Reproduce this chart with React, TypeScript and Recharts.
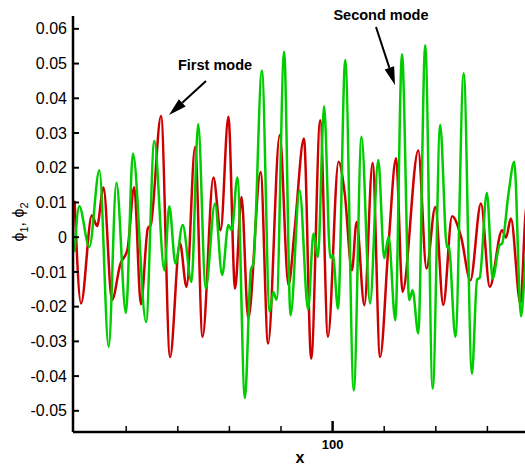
import { LineChart, Line, XAxis, YAxis } from 'recharts';

// first mode (red), extrema
const mode1X = [
  0, 2.5, 6.7, 8.7, 11.2, 14.5, 17.7, 20.5, 23.1, 25.7, 28.4, 29.5, 33.5, 37.0, 40.8, 43.4,
  46.7, 49.6, 53.8, 56.6, 59.6, 62.2, 64.7, 67.3, 72.1, 75.0, 79.5, 82.9, 85.3, 88.9, 91.7,
  95.2, 98.2, 102.3, 104.7, 107.5, 109.3, 112.3, 115.5, 118.4, 121.7, 124.6, 127.1, 133.2,
  136.4, 139.8, 142.9, 146.3, 149.8, 153.4, 157.5, 160.9, 165.7, 167.2, 169.1, 172.8, 174.7, 176,
];
const mode1Y = [
  0.0105, -0.0191, 0.0063, 0.0032, 0.0143, -0.0181, -0.0078, -0.0035, 0.0144, -0.0193, 0.0026,
  0.0035, 0.0349, -0.0345, -0.0016, -0.0143, 0.026, -0.0287, 0.0172, 0.002, 0.0347, -0.0148,
  0.0116, -0.0234, 0.0188, -0.0306, 0.0294, -0.0138, 0.0023, 0.0284, -0.035, 0.0337, -0.0287,
  0.0217, 0.0126, -0.0095, 0.0044, -0.0196, 0.0214, -0.0345, -0.0018, 0.0227, -0.0157, 0.025,
  -0.009, 0.0087, -0.0195, 0.006, 0.0001, -0.0124, 0.0097, -0.0143, 0.002, -0.0001, 0.0054,
  -0.0191, 0.0058, 0.014,
];

// second mode (green)
const mode2X = [
  0, 1.8, 5.7, 9.6, 13.2, 16.2, 19.9, 22.6, 27.7, 30.9, 34.8, 36.7, 39.1, 41.9, 45.3, 47.9,
  50.8, 54.4, 57.2, 59.6, 60.9, 63.1, 66.0, 68.3, 69.3, 72.6, 75.6, 77.0, 78.3, 81.2, 83.7,
  87.2, 90.5, 92.6, 94.3, 96.7, 99.1, 100.1, 102.1, 104.9, 108.2, 111.2, 114.5, 117.7, 120,
  121.7, 124.3, 126.9, 129.7, 131.0, 133.2, 135.9, 138.8, 141.7, 144.3, 145.0, 147.6, 150.8,
  154.0, 156.0, 157.0, 159.8, 162.0, 164.7, 165.7, 168.2, 170.4, 173.0, 174.7, 176,
];
const mode2Y = [
  -0.0042, 0.0089, -0.0028, 0.0193, -0.0316, 0.0157, -0.0218, 0.0241, -0.0244, 0.0277, -0.0095,
  0.0089, -0.0076, 0.0035, -0.0129, 0.0326, -0.0148, 0.0097, -0.0109, 0.0035, 0.002, 0.0172,
  -0.0463, -0.0095, -0.0075, 0.0479, -0.0215, -0.0158, -0.018, 0.0534, -0.0225, 0.0135, -0.0208,
  0.0011, -0.0057, 0.0377, -0.0059, -0.0052, -0.0206, 0.051, -0.0441, 0.0289, -0.0191, 0.0222,
  -0.006, 0.0001, -0.0239, 0.0527, -0.0181, -0.0153, -0.0277, 0.0553, -0.0436, 0.0323, -0.0028,
  -0.0025, -0.0287, 0.0472, -0.0393, -0.0122, -0.0117, 0.0128, -0.0119, -0.0023, -0.0018, 0.0127,
  0.0217, -0.0228, -0.0076, 0.004,
];

const yTicks = [0.06, 0.05, 0.04, 0.03, 0.02, 0.01, 0, -0.01, -0.02, -0.03, -0.04, -0.05];
const xTicks = [20, 40, 60, 80, 100, 120, 140, 160];
const xLabeled = [100];

const mode1 = mode1X.map((x, i) => ({ x, y: mode1Y[i] }));
const mode2 = mode2X.map((x, i) => ({ x, y: mode2Y[i] }));

const fmtY = (v: number) => (v === 0 ? '0' : v.toFixed(2));

function YTick(props: any) {
  const { x, y, payload } = props;
  return (
    <g>
      <line x1={x} y1={y} x2={x + 6} y2={y} stroke="#000" strokeWidth={2} />
      <text x={x - 6} y={y} dy="0.35em" textAnchor="end" fontSize={16} fill="#000">
        {fmtY(payload.value)}
      </text>
    </g>
  );
}

function XTick(props: any) {
  const { x, y, payload } = props;
  const major = xLabeled.includes(payload.value);
  return (
    <g>
      <line x1={x} y1={y} x2={x} y2={y - (major ? 11 : 6)} stroke="#000" strokeWidth={major ? 2.5 : 1.5} />
      {major && (
        <text x={x} y={y + 17} textAnchor="middle" fontSize={13} fontWeight="bold" fill="#000">
          {payload.value}
        </text>
      )}
    </g>
  );
}

function Arrow({ from, to }: { from: [number, number]; to: [number, number] }) {
  const dx = to[0] - from[0];
  const dy = to[1] - from[1];
  const len = Math.hypot(dx, dy);
  const ux = dx / len;
  const uy = dy / len;
  const head = 18;
  const half = 5;
  const bx = to[0] - ux * head;
  const by = to[1] - uy * head;
  const pts = `${to[0]},${to[1]} ${bx - uy * half},${by + ux * half} ${bx + uy * half},${by - ux * half}`;
  return (
    <g>
      <line x1={from[0]} y1={from[1]} x2={bx} y2={by} stroke="#000" strokeWidth={2} />
      <polygon points={pts} fill="#000" />
    </g>
  );
}

export default function App() {
  return (
    <div
      style={{
        position: 'absolute',
        left: 0,
        top: 0,
        width: 525,
        height: 467,
        overflow: 'hidden',
        background: '#fff',
        fontFamily: '"Liberation Sans", Arial, sans-serif',
      }}
    >
      <LineChart width={529} height={467} margin={{ top: 16, right: 0, bottom: 0, left: 0 }}>
        <XAxis
          type="number"
          dataKey="x"
          domain={[-0.62, 176.12]}
          ticks={xTicks}
          interval={0}
          allowDataOverflow
          height={35}
          tickLine={false}
          tickSize={0}
          tickMargin={0}
          tick={<XTick />}
          axisLine={{ stroke: '#000', strokeWidth: 2.5 }}
        />
        <YAxis
          type="number"
          dataKey="y"
          domain={[-0.0561, 0.0637]}
          ticks={yTicks}
          interval={0}
          allowDataOverflow
          width={73}
          tickLine={false}
          tickSize={0}
          tickMargin={0}
          tick={<YTick />}
          axisLine={{ stroke: '#000', strokeWidth: 2.5 }}
        />
        <Line
          data={mode1}
          dataKey="y"
          type="monotone"
          stroke="#cc0000"
          strokeWidth={2.5}
          dot={false}
          isAnimationActive={false}
        />
        <Line
          data={mode2}
          dataKey="y"
          type="monotone"
          stroke="#00cc00"
          strokeWidth={2.5}
          dot={false}
          isAnimationActive={false}
        />
      </LineChart>
      <svg
        width={525}
        height={467}
        style={{ position: 'absolute', left: 0, top: 0, pointerEvents: 'none' }}
      >
        <text x={215} y={70} textAnchor="middle" fontSize={14.5} fontWeight="bold" fill="#000">
          First mode
        </text>
        <Arrow from={[206, 81]} to={[169, 115]} />
        <text x={381} y={20} textAnchor="middle" fontSize={14.5} fontWeight="bold" fill="#000">
          Second mode
        </text>
        <Arrow from={[376, 27]} to={[395, 85]} />
        <text x={300} y={463} textAnchor="middle" fontSize={16} fontWeight="bold" fill="#000">
          x
        </text>
        <text transform="translate(24,222) rotate(-90)" textAnchor="middle" fontSize={16} fill="#000">
          ϕ<tspan fontSize={11} dy={4}>1</tspan>
          <tspan dy={-4}>, ϕ</tspan>
          <tspan fontSize={11} dy={4}>2</tspan>
        </text>
      </svg>
    </div>
  );
}
